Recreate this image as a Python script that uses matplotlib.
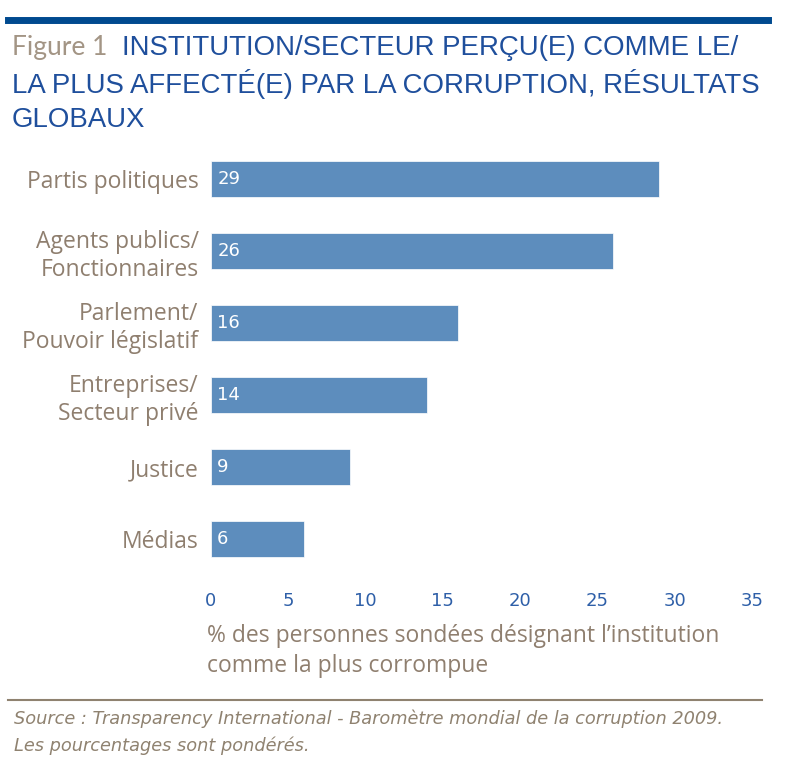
import matplotlib.pyplot as plt
from matplotlib.lines import Line2D

categories = ['Partis politiques', 'Agents publics/\nFonctionnaires', 'Parlement/\nPouvoir législatif',
              'Entreprises/\nSecteur privé', 'Justice', 'Médias']
values = [29, 26, 16, 14, 9, 6]
xticks = [0, 5, 10, 15, 20, 25, 30, 35]

bar_color = '#5d8dbd'
tan = '#8f7f6f'
blue = '#1f4f9c'

fig = plt.figure(figsize=(7.94, 7.68), dpi=100)

# top rule
fig.add_artist(Line2D([8 / 794, 768 / 794], [1 - 20 / 768, 1 - 20 / 768], color='#004a8f', lw=5))

# title
title_font = ['Liberation Sans', 'DejaVu Sans']
fig.text(12 / 794, 1 - 48 / 768, 'Figure 1', color='#a39585', fontsize=19, family=['Lato', 'DejaVu Sans'],
         va='center', ha='left')
fig.text(122 / 794, 1 - 48 / 768, 'INSTITUTION/SECTEUR PERÇU(E) COMME LE/', color=blue, fontsize=19.9,
         family=title_font, va='center', ha='left')
fig.text(12 / 794, 1 - 84 / 768, 'LA PLUS AFFECTÉ(E) PAR LA CORRUPTION, RÉSULTATS', color=blue, fontsize=19.9,
         family=title_font, va='center', ha='left')
fig.text(12 / 794, 1 - 120 / 768, 'GLOBAUX', color=blue, fontsize=19.9,
         family=title_font, va='center', ha='left')

ax = fig.add_axes([211 / 794, 1 - 575 / 768, 541 / 794, 432 / 768])
pos = range(len(categories))
ax.barh(pos, values, height=0.5, color=bar_color, edgecolor='white', linewidth=0.5)
for p, v in zip(pos, values):
    ax.text(0.4, p, str(v), color='white', fontsize=13, va='center', ha='left')

ax.set_xlim(0, 35)
ax.set_ylim(5.5, -0.5)
ax.set_yticks(list(pos))
ax.set_yticklabels(categories, fontsize=16.5, color=tan, family=['Open Sans', 'DejaVu Sans'],
                   linespacing=1.2)
ax.set_xticks(xticks)
ax.set_xticklabels([str(t) for t in xticks], fontsize=13, color='#2e5fa8')
ax.tick_params(axis='both', length=0)
ax.tick_params(axis='x', pad=12)
ax.tick_params(axis='y', pad=9)
for s in ax.spines.values():
    s.set_visible(False)

fig.text(207 / 794, 1 - 651 / 768, '% des personnes sondées désignant l\u2019institution\ncomme la plus corrompue',
         color=tan, fontsize=16.5, family=['Open Sans', 'DejaVu Sans'], va='center', ha='left', linespacing=1.3)

# bottom rule and source
fig.add_artist(Line2D([8 / 794, 762 / 794], [1 - 700 / 768, 1 - 700 / 768], color='#8f8270', lw=1.5))
fig.text(14 / 794, 1 - 732 / 768,
         'Source : Transparency International - Baromètre mondial de la corruption 2009.\nLes pourcentages sont pondérés.',
         color='#8f8270', fontsize=12.8, style='italic', family=['DejaVu Sans'], va='center', ha='left',
         linespacing=1.6)

fig.savefig('out.png', dpi=100)
